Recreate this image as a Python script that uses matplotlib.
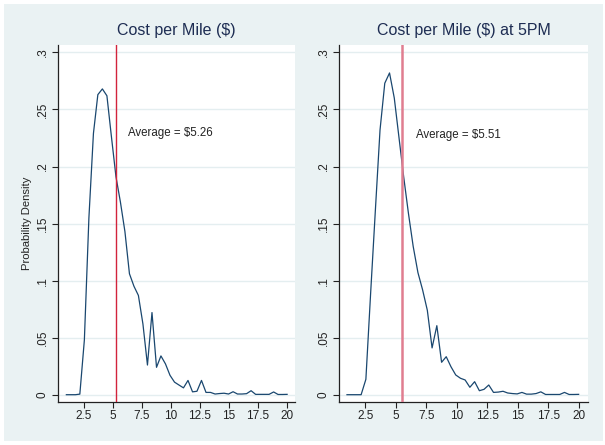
import matplotlib
matplotlib.use("Agg")
import matplotlib.pyplot as plt
from matplotlib.patches import Rectangle

plt.rcParams['font.family'] = ['Liberation Sans', 'DejaVu Sans']

cost_grid = [1.00, 1.39, 1.78, 2.16, 2.55, 2.94, 3.33, 3.71, 4.10, 4.49,
             4.88, 5.27, 5.65, 6.04, 6.43, 6.82, 7.20, 7.59, 7.98, 8.37,
             8.76, 9.14, 9.53, 9.92, 10.31, 10.69, 11.08, 11.47, 11.86, 12.24,
             12.63, 13.02, 13.41, 13.80, 14.18, 14.57, 14.96, 15.35, 15.73, 16.12,
             16.51, 16.90, 17.29, 17.67, 18.06, 18.45, 18.84, 19.22, 19.61, 20.00]

density_all = [0, 0, 0, 0.0005, 0.048, 0.155, 0.229, 0.263, 0.268, 0.262,
               0.226, 0.191, 0.169, 0.143, 0.106, 0.095, 0.087, 0.062, 0.026, 0.072,
               0.024, 0.034, 0.027, 0.017, 0.011, 0.0085, 0.006, 0.0125, 0.0025, 0.003,
               0.0125, 0.002, 0.002, 0.0006, 0.001, 0.0013, 0.0006, 0.0026, 0.0006, 0.0006,
               0.0009, 0.0035, 0.0003, 0.0003, 0.0003, 0.0003, 0.0024, 0.0002, 0.0002, 0.0003]

density_5pm = [0, 0, 0, 0, 0.0135, 0.089, 0.162, 0.232, 0.273, 0.282,
               0.260, 0.225, 0.191, 0.159, 0.130, 0.107, 0.092, 0.074, 0.041, 0.0605,
               0.0284, 0.0333, 0.0245, 0.0173, 0.0144, 0.0129, 0.0065, 0.0114, 0.0035, 0.0047,
               0.0085, 0.002, 0.0023, 0.003, 0.0015, 0.001, 0.0007, 0.002, 0.0005, 0.0005,
               0.001, 0.0025, 0.0002, 0.0002, 0.0002, 0.0002, 0.002, 0.0002, 0.0002, 0.0003]

titles = ["Cost per Mile ($)", "Cost per Mile ($) at 5PM"]
averages = [5.26, 5.51]
avg_labels = ["Average = $5.26", "Average = $5.51"]
label_pos = [(6.28, 0.229), (6.66, 0.228)]

xticks = [2.5, 5, 7.5, 10, 12.5, 15, 17.5, 20]
xticklabels = ["2.5", "5", "7.5", "10", "12.5", "15", "17.5", "20"]
yticks = [0, 0.05, 0.1, 0.15, 0.2, 0.25, 0.3]
yticklabels = ["0", ".05", ".1", ".15", ".2", ".25", ".3"]

W, H = 605, 445
fig = plt.figure(figsize=(W / 100, H / 100), dpi=100, facecolor="white")
bg = "#EAF2F3"
fig.patches.append(Rectangle((4 / W, 4 / H), 599 / W, 437 / H,
                             transform=fig.transFigure, facecolor=bg,
                             edgecolor="none", zorder=-10))

boxes = [(58, 45, 295, 402), (339, 45, 588, 402)]
xlims = [(0.28, 20.68), (0.345, 20.77)]
series = [density_all, density_5pm]
vcolors = ["#D2233C", "#E07D90"]
vwidths = [1.0, 1.8]

for i in range(2):
    x0, y0, x1, y1 = boxes[i]
    ax = fig.add_axes([x0 / W, (H - y1) / H, (x1 - x0) / W, (y1 - y0) / H])
    ax.set_facecolor("white")
    ax.plot(cost_grid, series[i], color="#1A476F", lw=0.9, zorder=3)
    ax.axvline(averages[i], color=vcolors[i], lw=vwidths[i], zorder=4)
    ax.text(label_pos[i][0], label_pos[i][1], avg_labels[i], fontsize=8.3,
            ha="left", va="center", color="#222222")
    ax.set_xlim(*xlims[i])
    ax.set_ylim(-0.0064, 0.3065)
    ax.set_xticks(xticks)
    ax.set_xticklabels(xticklabels, fontsize=8.5)
    ax.set_yticks(yticks)
    ax.set_yticklabels(yticklabels, fontsize=8.5, rotation=90, va="center")
    ax.tick_params(axis="both", length=4, width=0.8, color="#222222", labelcolor="#222222")
    ax.tick_params(axis="x", pad=2)
    ax.tick_params(axis="y", pad=2.5)
    ax.grid(axis="y", color="#E4EEF0", lw=1.0, zorder=0)
    ax.set_axisbelow(True)
    for s in ["top", "right"]:
        ax.spines[s].set_visible(False)
    for s in ["left", "bottom"]:
        ax.spines[s].set_color("#222222")
        ax.spines[s].set_linewidth(0.9)
    ax.set_title(titles[i], fontsize=11.5, color="#1E2D53", pad=7)
    if i == 0:
        ax.set_ylabel("Probability Density", fontsize=8.1, color="#222222")
        ax.yaxis.set_label_coords(-0.108, 0.5)

fig.savefig("out.png", dpi=100, facecolor="white")
